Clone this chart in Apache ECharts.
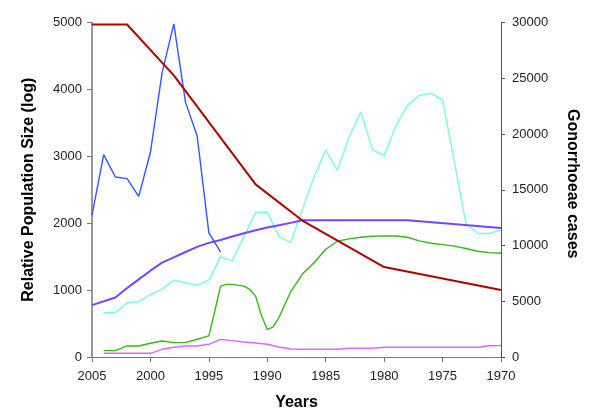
<!DOCTYPE html>
<html>
<head>
<meta charset="utf-8">
<script src="https://cdn.jsdelivr.net/npm/echarts@6/dist/echarts.min.js"></script>
<style>
html,body{margin:0;padding:0;background:#fff;}
#chart{width:600px;height:417px;}
</style>
</head>
<body>
<div id="chart"></div>
<script>
// Tick labels
const xTicks = [2005, 2000, 1995, 1990, 1985, 1980, 1975, 1970];
const leftTicks = [0, 1000, 2000, 3000, 4000, 5000];
const rightTicks = [0, 5000, 10000, 15000, 20000, 25000, 30000];

// Blue (left axis)
const blueYears  = [2005, 2004, 2003, 2002, 2001, 2000, 1999, 1998, 1997, 1996, 1995, 1994];
const blueValues = [2119, 3025, 2690, 2667, 2400, 3060, 4250, 4980, 3810, 3303, 1855, 1571];

// Dark red (left axis)
const redYears  = [2005, 2002, 1998, 1991, 1987, 1980, 1970];
const redValues = [4970, 4970, 4210, 2580, 2040, 1345, 1000];

// Purple (left axis)
const purpleYears  = [2005, 2003, 2002, 2001, 2000, 1999, 1998, 1997, 1996, 1995, 1994, 1993, 1992, 1991, 1990, 1989, 1988, 1987, 1978, 1970];
const purpleValues = [776, 890, 1030, 1160, 1290, 1410, 1490, 1570, 1646, 1706, 1750, 1800, 1850, 1895, 1935, 1970, 2005, 2045, 2045, 1930];

// Cyan: Gonorrhoeae cases (right axis)
const cyanYears  = [2004, 2003, 2002, 2001, 2000, 1999, 1998, 1997, 1996, 1995, 1994, 1993, 1992, 1991, 1990, 1989, 1988, 1987, 1986, 1985, 1984, 1983, 1982, 1981, 1980, 1979, 1978, 1977, 1976, 1975, 1974, 1973, 1972, 1971, 1970];
const cyanValues = [3970, 3970, 4860, 4950, 5620, 6090, 6890, 6660, 6450, 6890, 9000, 8620, 10800, 12960, 12990, 10780, 10270, 13240, 16150, 18570, 16750, 19730, 21970, 18600, 18060, 20700, 22570, 23460, 23640, 23080, 17520, 11970, 11080, 11080, 11400];

// Green (left axis)
const greenYears  = [2004, 2003, 2002, 2001, 2000, 1999, 1998, 1997, 1996, 1995, 1994.5, 1994, 1993.5, 1993, 1992, 1991.5, 1991, 1990.5, 1990, 1989.5, 1989, 1988, 1987, 1986, 1985, 1984, 1983, 1982, 1981, 1980, 1979, 1978, 1977, 1976, 1975, 1974, 1973, 1972, 1971, 1970];
const greenValues = [95, 95, 165, 165, 205, 240, 215, 215, 265, 315, 680, 1060, 1085, 1085, 1060, 1010, 910, 620, 410, 450, 590, 975, 1240, 1410, 1610, 1730, 1765, 1790, 1805, 1810, 1808, 1790, 1735, 1700, 1680, 1658, 1622, 1580, 1560, 1550];

// Magenta (left axis)
const magentaYears  = [2004, 2000, 1999, 1998, 1997, 1996, 1995, 1994, 1993, 1992, 1991, 1990, 1989, 1988, 1987, 1984, 1983, 1981, 1980, 1972, 1971, 1970];
const magentaValues = [55, 55, 115, 145, 165, 165, 190, 262, 245, 225, 210, 190, 150, 120, 115, 115, 130, 130, 145, 145, 168, 170];

function pairs(xs, ys) { return xs.map((x, i) => [x, ys[i]]); }

const FONT = '"Liberation Sans", Arial, Helvetica, sans-serif';
const chart = echarts.init(document.getElementById('chart'), null, {renderer: 'canvas'});

function lineSeries(name, xs, ys, color, width, yIndex) {
  return {
    name: name, type: 'line', yAxisIndex: yIndex,
    data: pairs(xs, ys), showSymbol: false, symbol: 'none',
    lineStyle: {color: color, width: width}, itemStyle: {color: color},
    animation: false, z: 3
  };
}

chart.setOption({
  animation: false,
  backgroundColor: '#fff',
  grid: {left: 92, right: 99, top: 22.5, bottom: 60, containLabel: false},
  xAxis: {
    type: 'value', inverse: true, min: 1970, max: 2005, interval: 5,
    name: 'Years', nameLocation: 'middle', nameGap: 38,
    nameTextStyle: {fontFamily: FONT, fontSize: 16, fontWeight: 'bold', color: '#000'},
    axisLine: {show: true, lineStyle: {color: '#777', width: 1}},
    axisTick: {show: true, length: 5, lineStyle: {color: '#777'}},
    axisLabel: {fontFamily: FONT, fontSize: 13, color: '#222', margin: 13,
      formatter: v => xTicks.includes(v) ? String(v) : ''},
    splitLine: {show: false}
  },
  yAxis: [
    {
      type: 'value', position: 'left', min: 0, max: 5000, interval: 1000,
      name: 'Relative Population Size (log)', nameLocation: 'middle', nameGap: 55,
      nameTextStyle: {fontFamily: FONT, fontSize: 16, fontWeight: 'bold', color: '#000'},
      axisLine: {show: true, lineStyle: {color: '#999', width: 2}},
      axisTick: {show: true, length: 5, lineStyle: {color: '#777'}},
      axisLabel: {fontFamily: FONT, fontSize: 13, color: '#222', margin: 10,
        formatter: v => leftTicks.includes(v) ? String(v) : ''},
      splitLine: {show: false}
    },
    {
      type: 'value', position: 'right', min: 0, max: 30000, interval: 5000,
      name: 'Gonorrhoeae cases', nameLocation: 'middle', nameGap: 63, nameRotate: -90,
      nameTextStyle: {fontFamily: FONT, fontSize: 16, fontWeight: 'bold', color: '#000', padding: [0, 12, 0, 0]},
      axisLine: {show: true, lineStyle: {color: '#555', width: 1}},
      axisTick: {show: true, length: 4, lineStyle: {color: '#555'}},
      axisLabel: {fontFamily: FONT, fontSize: 13, color: '#222', margin: 11,
        formatter: v => rightTicks.includes(v) ? String(v) : ''},
      splitLine: {show: false}
    }
  ],
  series: [
    lineSeries('Cases', cyanYears, cyanValues, '#77ffdd', 1.4, 1),
    lineSeries('Magenta', magentaYears, magentaValues, '#dd66ff', 1.4, 0),
    lineSeries('Green', greenYears, greenValues, '#33bb11', 1.4, 0),
    lineSeries('Purple', purpleYears, purpleValues, '#7744ff', 2, 0),
    lineSeries('Blue', blueYears, blueValues, '#3355ff', 1.4, 0),
    lineSeries('Red', redYears, redValues, '#b00000', 2, 0)
  ]
});
</script>
</body>
</html>
